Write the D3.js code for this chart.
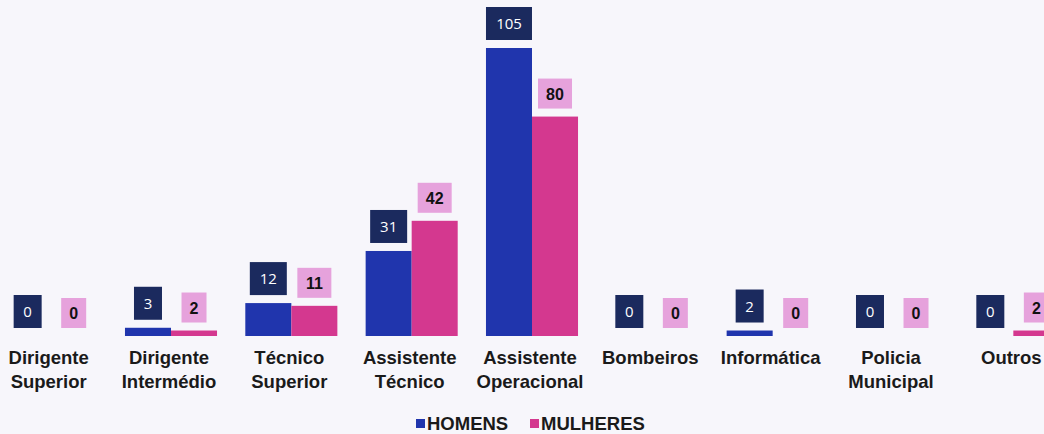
<!DOCTYPE html>
<html>
<head>
<meta charset="utf-8">
<script src="https://cdn.jsdelivr.net/npm/d3@7"></script>
<style>
  body { margin: 0; background: #f7f6fb; }
  svg { display: block; }
</style>
</head>
<body>
<div id="chart"></div>
<script>
// Trabalhadores por cargo e género

var categories = [
  ['Dirigente', 'Superior'],
  ['Dirigente', 'Intermédio'],
  ['Técnico', 'Superior'],
  ['Assistente', 'Técnico'],
  ['Assistente', 'Operacional'],
  ['Bombeiros'],
  ['Informática'],
  ['Policia', 'Municipal'],
  ['Outros']
];
var homens = [0, 3, 12, 31, 105, 0, 2, 0, 0];
var mulheres = [0, 2, 11, 42, 80, 0, 0, 0, 2];
var seriesNames = ['HOMENS', 'MULHERES'];

var width = 1044, height = 434;
var baseY = 336;

var svg = d3.select('#chart')
  .append('svg')
  .attr('width', width)
  .attr('height', height);

svg.append('rect')
  .attr('width', width)
  .attr('height', height)
  .style('fill', '#f7f6fb');

var keys = categories.map(function (c, i) { return i; });

var x = d3.scaleBand()
  .domain(keys)
  .range([-9.5, 1073.5])
  .paddingInner(0.235)
  .paddingOuter(0.1175);

var xs = d3.scaleBand()
  .domain([0, 1])
  .range([0, x.bandwidth()]);

var y = d3.scaleLinear()
  .domain([0, 105])
  .range([baseY, 48]);

var colors = ['#2035ad', '#d4388f'];
var boxColors = ['#1b2a5e', '#e6a2dc'];

var data = [];
keys.forEach(function (i) {
  data.push({ cat: i, s: 0, v: homens[i] });
  data.push({ cat: i, s: 1, v: mulheres[i] });
});

function boxW(d) {
  var n = String(d.v).length;
  return d.s === 0 ? 19 + 9 * n : 16 + 9 * n;
}

// bars
svg.selectAll('.bar')
  .data(data.filter(function (d) { return d.v > 0; }))
  .enter()
  .append('rect')
  .attr('class', 'bar')
  .attr('x', function (d) { return x(d.cat) + xs(d.s); })
  .attr('y', function (d) { return y(d.v); })
  .attr('width', xs.bandwidth())
  .attr('height', function (d) { return y(0) - y(d.v); })
  .style('fill', function (d) { return colors[d.s]; });

// value labels
var lab = svg.selectAll('.lab')
  .data(data)
  .enter()
  .append('g')
  .attr('class', 'lab')
  .attr('transform', function (d) {
    var cx = x(d.cat) + xs(d.s) + xs.bandwidth() / 2;
    return 'translate(' + cx + ',' + (y(d.v) - 8) + ')';
  });

lab.append('rect')
  .attr('x', function (d) { return -boxW(d) / 2; })
  .attr('y', function (d) { return d.s === 0 ? -33 : -30; })
  .attr('width', boxW)
  .attr('height', function (d) { return d.s === 0 ? 33 : 30; })
  .style('fill', function (d) { return boxColors[d.s]; });

lab.append('text')
  .attr('text-anchor', 'middle')
  .attr('y', function (d) { return d.s === 0 ? -11 : -9; })
  .style('font-family', function (d) { return d.s === 0 ? 'Open Sans, sans-serif' : 'Liberation Sans, Arial, sans-serif'; })
  .style('font-size', function (d) { return d.s === 0 ? '15px' : '16px'; })
  .style('font-weight', function (d) { return d.s === 0 ? 'normal' : 'bold'; })
  .style('fill', function (d) { return d.s === 0 ? '#ffffff' : '#111111'; })
  .text(function (d) { return d.v; });

// category labels
var catText = svg.selectAll('.cat')
  .data(keys)
  .enter()
  .append('text')
  .attr('class', 'cat')
  .attr('text-anchor', 'middle')
  .attr('x', function (i) { return x(i) + x.bandwidth() / 2; })
  .attr('y', 364)
  .style('font-family', 'Liberation Sans, Arial, sans-serif')
  .style('font-size', '18.5px')
  .style('font-weight', 'bold')
  .style('fill', '#1a1a1a');

catText.selectAll('tspan')
  .data(function (i) { return categories[i]; })
  .enter()
  .append('tspan')
  .attr('x', function () { var i = d3.select(this.parentNode).datum(); return x(i) + x.bandwidth() / 2 - 2; })
  .attr('dy', function (d, j) { return j === 0 ? 0 : 24; })
  .text(function (d) { return d; });

// legend
var legendX = [416, 530];
var legend = svg.selectAll('.legend')
  .data(seriesNames)
  .enter()
  .append('g')
  .attr('class', 'legend')
  .attr('transform', function (d, i) { return 'translate(' + legendX[i] + ',419)'; });

legend.append('rect')
  .attr('width', 9)
  .attr('height', 9)
  .style('fill', function (d, i) { return colors[i]; });

legend.append('text')
  .attr('x', 11)
  .attr('y', 11)
  .style('font-family', 'Liberation Sans, Arial, sans-serif')
  .style('font-size', '18.5px')
  .style('font-weight', 'bold')
  .style('fill', '#1a1a1a')
  .text(function (d) { return d; });
</script>
</body>
</html>
